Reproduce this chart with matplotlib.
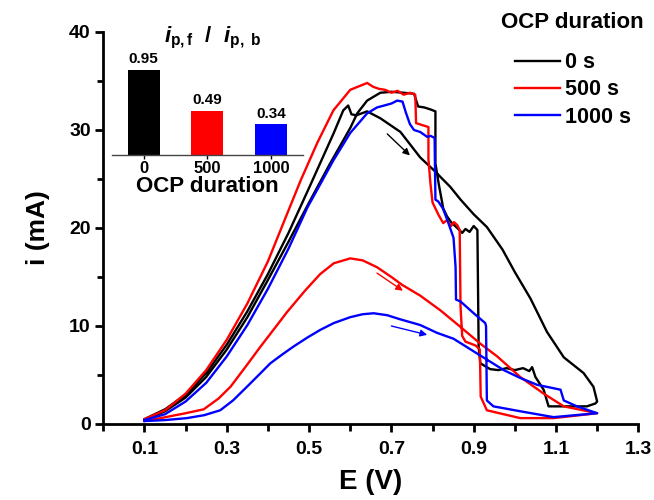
import matplotlib
matplotlib.use("Agg")
import matplotlib.pyplot as plt
from matplotlib.ticker import MultipleLocator, FixedLocator
from matplotlib.lines import Line2D

plt.rcParams['font.family'] = ['Liberation Sans', 'DejaVu Sans']
plt.rcParams['font.weight'] = 'bold'
plt.rcParams['mathtext.fontset'] = 'custom'
plt.rcParams['mathtext.it'] = 'Liberation Sans:italic:bold'
plt.rcParams['mathtext.rm'] = 'Liberation Sans:bold'
plt.rcParams['mathtext.bf'] = 'Liberation Sans:bold'

# ---- data ----
black_fwd_E = [0.1, 0.15, 0.2, 0.25, 0.3, 0.35, 0.4, 0.45, 0.5, 0.53, 0.56, 0.583, 0.595, 0.603, 0.615, 0.641, 0.673, 0.722, 0.746, 0.77, 0.803, 0.843, 0.868, 0.9, 0.932, 0.97, 1.0, 1.038, 1.078, 1.119, 1.167, 1.191, 1.2]
black_fwd_i = [0.5, 1.5, 3.0, 5.2, 8.1, 11.5, 15.3, 19.5, 24.1, 26.9, 29.7, 32.0, 32.5, 31.6, 31.5, 31.9, 31.2, 29.8, 28.5, 27.2, 25.9, 24.2, 22.9, 21.4, 20.1, 17.8, 15.5, 12.8, 9.4, 6.8, 5.2, 3.8, 2.3]
black_bwd_E = [1.2, 1.196, 1.175, 1.082, 1.07, 1.05, 1.042, 1.035, 1.02, 1.0, 0.98, 0.96, 0.94, 0.916, 0.912, 0.909, 0.9, 0.89, 0.88, 0.872, 0.86, 0.845, 0.835, 0.826, 0.815, 0.807, 0.807, 0.795, 0.78, 0.765, 0.755, 0.73, 0.7, 0.673, 0.641, 0.617, 0.6, 0.55, 0.5, 0.45, 0.4, 0.35, 0.3, 0.25, 0.2, 0.15, 0.1]
black_bwd_i = [2.3, 2.1, 1.8, 1.8, 3.5, 4.8, 5.8, 5.4, 5.7, 5.5, 5.7, 5.5, 5.6, 6.2, 7.9, 19.8, 20.2, 19.6, 19.9, 19.5, 20.0, 20.6, 21.2, 22.0, 24.5, 26.6, 31.9, 32.1, 32.3, 32.4, 33.7, 33.8, 33.9, 33.8, 33.0, 31.7, 30.2, 26.5, 22.6, 18.6, 14.7, 10.9, 7.6, 4.8, 2.7, 1.3, 0.4]

red_fwd_E = [0.1, 0.139, 0.2, 0.244, 0.28, 0.309, 0.345, 0.382, 0.415, 0.446, 0.49, 0.527, 0.56, 0.6, 0.63, 0.665, 0.7, 0.726, 0.77, 0.819, 0.868, 0.916, 0.957, 1.013, 1.07, 1.119, 1.2]
red_fwd_i = [0.3, 0.6, 1.1, 1.5, 2.6, 3.8, 5.8, 7.9, 9.7, 11.4, 13.6, 15.3, 16.4, 16.9, 16.7, 16.0, 15.0, 14.2, 13.1, 11.6, 9.9, 8.2, 6.9, 4.8, 3.1, 1.8, 1.1]
red_bwd_E = [1.2, 1.094, 1.013, 0.932, 0.917, 0.915, 0.905, 0.893, 0.88, 0.872, 0.868, 0.866, 0.86, 0.852, 0.845, 0.835, 0.826, 0.815, 0.8, 0.795, 0.79, 0.79, 0.775, 0.76, 0.758, 0.745, 0.73, 0.715, 0.7, 0.685, 0.67, 0.656, 0.641, 0.6, 0.559, 0.52, 0.48, 0.45, 0.4, 0.35, 0.3, 0.25, 0.2, 0.15, 0.1]
red_bwd_i = [1.1, 0.6, 0.6, 1.4, 2.8, 7.6, 8.0, 8.2, 8.4, 9.0, 12.0, 19.8, 20.3, 20.6, 20.2, 20.8, 20.5, 21.3, 22.6, 24.5, 27.0, 30.3, 30.5, 30.7, 33.6, 33.8, 33.6, 34.0, 33.8, 34.1, 34.2, 34.4, 34.8, 34.1, 32.0, 28.7, 24.9, 21.8, 16.6, 12.3, 8.6, 5.5, 3.1, 1.4, 0.5]

blue_fwd_E = [0.1, 0.15, 0.203, 0.245, 0.284, 0.315, 0.349, 0.38, 0.406, 0.435, 0.462, 0.495, 0.527, 0.56, 0.6, 0.63, 0.657, 0.69, 0.72, 0.77, 0.811, 0.851, 0.908, 0.973, 1.013, 1.054, 1.111, 1.119, 1.151, 1.2]
blue_fwd_i = [0.3, 0.4, 0.6, 0.9, 1.4, 2.4, 3.8, 5.1, 6.2, 7.1, 7.9, 8.8, 9.6, 10.3, 10.9, 11.2, 11.3, 11.1, 10.7, 10.1, 9.3, 8.7, 7.2, 5.5, 4.7, 4.0, 3.5, 2.4, 1.8, 1.1]
blue_bwd_E = [1.2, 1.094, 1.013, 0.948, 0.932, 0.93, 0.928, 0.9, 0.868, 0.857, 0.856, 0.851, 0.836, 0.825, 0.814, 0.807, 0.805, 0.795, 0.787, 0.77, 0.755, 0.745, 0.735, 0.727, 0.714, 0.7, 0.665, 0.641, 0.6, 0.559, 0.496, 0.45, 0.4, 0.35, 0.3, 0.25, 0.2, 0.15, 0.1]
blue_bwd_i = [1.1, 0.7, 1.3, 1.8, 2.4, 10.0, 10.3, 11.3, 12.5, 12.7, 16.0, 19.0, 20.8, 22.0, 22.7, 22.9, 29.2, 29.4, 29.3, 29.8, 30.0, 30.6, 31.8, 32.9, 33.0, 32.7, 32.3, 31.7, 29.7, 26.9, 22.1, 17.9, 13.8, 10.1, 6.9, 4.2, 2.3, 1.0, 0.4]

legend_title = 'OCP duration'
legend_labels = ['0 s', '500 s', '1000 s']
colors = ['black', '#ff0000', '#0000ff']

inset_categories = ['0', '500', '1000']
inset_ratios = [0.95, 0.49, 0.34]
inset_xlabel = 'OCP duration'

# arrows (start E, start i, end E, end i)
arrow_black = (0.69, 29.6, 0.745, 27.4)
arrow_red = (0.665, 15.4, 0.728, 13.6)
arrow_blue = (0.70, 10.0, 0.787, 9.1)

# ---- figure ----
fig = plt.figure(figsize=(6.54, 5.0), dpi=100)
ax = fig.add_axes([0.158, 0.152, 0.818, 0.784])

curves = [
    (black_fwd_E, black_fwd_i, black_bwd_E, black_bwd_i),
    (red_fwd_E, red_fwd_i, red_bwd_E, red_bwd_i),
    (blue_fwd_E, blue_fwd_i, blue_bwd_E, blue_bwd_i),
]
for (fe, fi, be, bi), c, lab in zip(curves, colors, legend_labels):
    ax.plot(fe + be, fi + bi, color=c, lw=1.7, label=lab)

for (x0, y0, x1, y1), c in zip([arrow_black, arrow_red, arrow_blue], colors):
    ax.annotate('', xy=(x1, y1), xytext=(x0, y0),
                arrowprops=dict(arrowstyle='-|>', color=c, lw=1.0,
                                mutation_scale=10, shrinkA=0, shrinkB=0))

ax.set_xlim(0, 1.3)
ax.set_ylim(0, 40)
ax.xaxis.set_major_locator(FixedLocator([0.1, 0.3, 0.5, 0.7, 0.9, 1.1, 1.3]))
ax.xaxis.set_minor_locator(FixedLocator([0.0, 0.2, 0.4, 0.6, 0.8, 1.0, 1.2]))
ax.yaxis.set_major_locator(MultipleLocator(10))
ax.yaxis.set_minor_locator(MultipleLocator(5))
ax.set_xticklabels(['0.1', '0.3', '0.5', '0.7', '0.9', '1.1', '1.3'])
for s in ['top', 'right']:
    ax.spines[s].set_visible(False)
for s in ['left', 'bottom']:
    ax.spines[s].set_linewidth(2)
ax.tick_params(which='major', direction='out', length=6, width=2, labelsize=14)
ax.tick_params(axis='x', which='minor', direction='out', length=5, width=2)
ax.tick_params(axis='y', which='minor', direction='out', length=4, width=2)
ax.tick_params(axis='x', which='major', pad=6)
ax.tick_params(axis='y', which='major', pad=3)
for t in ax.get_xticklabels() + ax.get_yticklabels():
    t.set_fontweight('bold')
ax.set_xlabel('E (V)', fontsize=20, fontweight='bold', labelpad=8)
ax.set_ylabel('i (mA)', fontsize=19, fontweight='bold', labelpad=14)

handles = [Line2D([], [], color=c, lw=1.7) for c in colors]
leg = fig.legend(handles, legend_labels, loc='center left',
                 bbox_to_anchor=(515 / 654, 1 - 90 / 500), bbox_transform=fig.transFigure,
                 frameon=False, fontsize=15.5, borderaxespad=0, borderpad=0,
                 handlelength=2.09, handletextpad=0.23, labelspacing=0.3)
for t in leg.get_texts():
    t.set_fontweight('bold')
fig.text(572 / 654, 1 - 23 / 500, legend_title, ha='center', va='center',
         fontsize=16, fontweight='bold')

# ---- inset ----
iax = fig.add_axes([0.171, 0.69, 0.292, 0.234])
xpos = list(range(len(inset_categories)))
iax.bar(xpos, inset_ratios, width=0.5, color=colors, edgecolor='none')
for x, v in zip(xpos, inset_ratios):
    iax.text(x, v + 0.04, f'{v:.2f}', ha='center', va='bottom', fontsize=11, fontweight='bold')
iax.set_xlim(-0.5, 2.5)
iax.set_ylim(0, 1.3)
iax.set_xticks(xpos)
iax.set_xticklabels(inset_categories, fontsize=12, fontweight='bold')
iax.set_yticks([])
for s in ['top', 'right', 'left']:
    iax.spines[s].set_visible(False)
iax.spines['bottom'].set_linewidth(1.0)
iax.spines['bottom'].set_color('#444444')
iax.tick_params(axis='x', length=3, width=1, pad=1)
iax.set_xlabel(inset_xlabel, fontsize=16, fontweight='bold', labelpad=0)
iax.patch.set_alpha(0)
iax.text(0.53, 0.966, r'$i_{\mathrm{p,f}}$  /  $i_{\mathrm{p,\ b}}$', transform=iax.transAxes,
         ha='center', va='baseline', fontsize=16)

fig.savefig('out.png', dpi=100)
